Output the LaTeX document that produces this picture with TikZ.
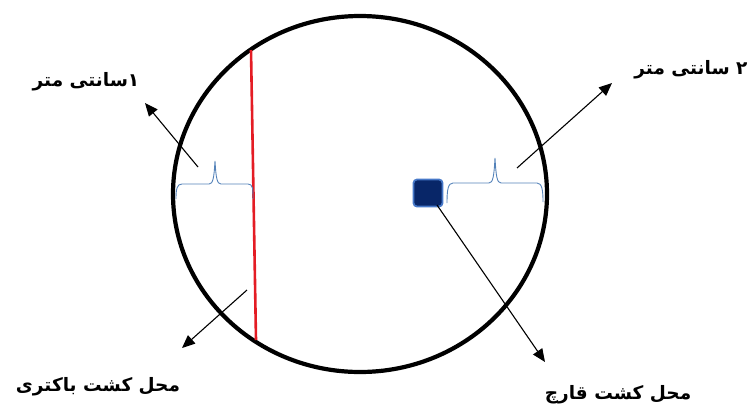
\documentclass[tikz,border=0pt]{standalone}
\usepackage{fontspec}
\newfontfamily\arabicfont[Script=Arabic]{DejaVu Sans}
\TeXXeTstate=1
\usetikzlibrary{arrows.meta,shapes.geometric}
\definecolor{braceblue}{RGB}{84,130,185}
\definecolor{dishred}{RGB}{228,28,36}
\definecolor{sqnavy}{RGB}{8,38,104}
\definecolor{sqedge}{RGB}{70,120,200}
\begin{document}
\begin{tikzpicture}[x=1pt,y=-1pt,
  lbl/.style={font=\arabicfont\bfseries\fontsize{18.5}{22}\selectfont, inner sep=0pt},
  ptr/.style={draw=black, line width=1.1pt, -{Triangle[length=13pt,width=11pt]}},
  brc/.style={draw=braceblue, line width=0.9pt},
]
\useasboundingbox (0,0) rectangle (750,408);
% dish
\node[ellipse, draw=black, line width=4.2pt, minimum width=374pt, minimum height=356pt, inner sep=0pt] (dish) at (360,194) {};
% bacteria streak
\coordinate (rtop) at (251,50);
\coordinate (rbot) at (256,340);
\draw[dishred, line width=2.6pt] (rtop) -- (rbot);
% fungus square
\node[draw=sqedge, fill=sqnavy, rounded corners=3.5pt, minimum width=29pt, minimum height=27pt, line width=1.8pt, inner sep=0pt] (fungus) at (428,193) {};
% braces
\draw[brc] (176,199) .. controls (176,189) and (177,184) .. (182,184) -- (209,184) .. controls (213,184) and (214,178) .. (215,161) .. controls (216,178) and (217,184) .. (221,184) -- (248,184) .. controls (253,184) and (253,189) .. (253,199);
\draw[brc] (447,203) .. controls (447,190) and (448,183) .. (453,183) -- (489,183) .. controls (493,183) and (494,176) .. (495,158) .. controls (496,176) and (497,183) .. (501,183) -- (537,183) .. controls (542,183) and (543,190) .. (543,202);
% labels
\node[lbl] (l1) at (86,82) {\beginR ۱سانتی متر\endR};
\node[lbl] (l2) at (691,70) {\beginR ۲ سانتی متر\endR};
\node[lbl] (l3) at (98,387) {\beginR محل کشت باکتری\endR};
\node[lbl] (l4) at (618,395) {\beginR محل کشت قارچ\endR};
% arrows
\coordinate (a1s) at (198,167); \coordinate (a1e) at (145,103);
\coordinate (a2s) at (517,168); \coordinate (a2e) at (612,83);
\coordinate (a3s) at (247,290); \coordinate (a3e) at (182,348);
\coordinate (a4s) at (437,205); \coordinate (a4e) at (545,362);
\draw[ptr] (a1s) -- (a1e);
\draw[ptr] (a2s) -- (a2e);
\draw[ptr] (a3s) -- (a3e);
\draw[ptr] (a4s) -- (a4e);
\end{tikzpicture}
\end{document}
